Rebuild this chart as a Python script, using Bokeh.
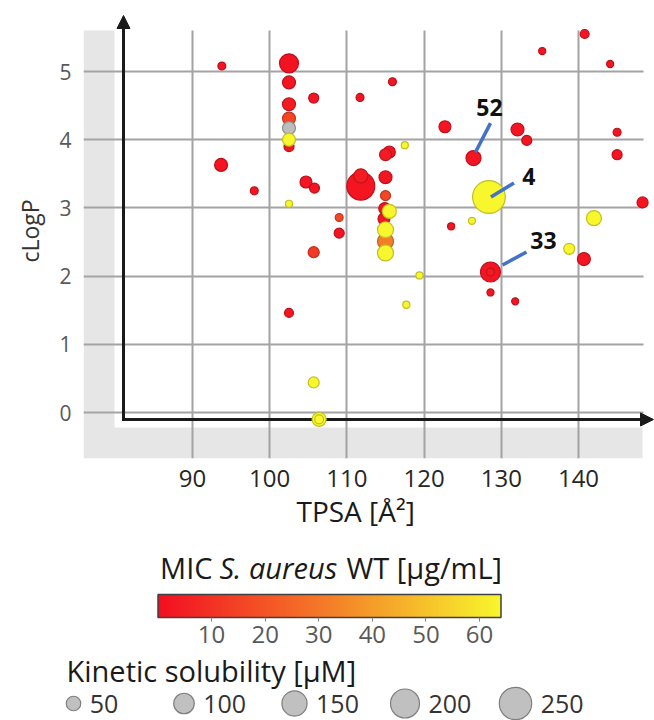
import numpy as np
from bokeh.plotting import figure
from bokeh.models import (ColumnDataSource, Range1d, FixedTicker, LinearColorMapper,
                          ColorBar, Arrow, NormalHead, Title)
from bokeh.layouts import column
from bokeh.embed import file_html
from bokeh.resources import INLINE
from bokeh.core.properties import value

NAN = float("nan")

# ---------------- data ----------------
tpsa = [93.8, 93.7, 98.0, 102.5, 102.5, 105.7, 102.5, 102.5, 102.5, 102.5,
        102.5, 115.9, 111.7, 122.7, 117.5, 115.5, 115.0, 126.4, 104.7, 105.8,
        111.8, 111.8, 115.0, 102.5, 115.0, 109.0, 114.9, 114.8, 115.5, 109.0,
        115.0, 115.0, 115.0, 119.4, 105.7, 117.7, 102.5, 105.7, 106.4, 106.4,
        123.5, 126.2, 140.8, 135.3, 144.1, 132.1, 133.3, 145.0, 145.0, 128.4,
        148.3, 142.0, 128.6, 128.6, 128.6, 131.8, 138.8, 140.7]
clogp = [5.08, 3.63, 3.25, 4.84, 5.12, 4.61, 4.52, 4.31, 4.17, 3.90,
         4.00, 4.85, 4.62, 4.19, 3.92, 3.82, 3.78, 3.73, 3.38, 3.29,
         3.32, 3.47, 3.45, 3.06, 3.18, 2.86, 2.99, 2.84, 2.95, 2.63,
         2.51, 2.68, 2.34, 2.01, 2.35, 1.58, 1.46, 0.44, -0.10, -0.10,
         2.73, 2.81, 5.55, 5.30, 5.11, 4.15, 3.99, 4.11, 3.78, 3.16,
         3.08, 2.85, 2.06, 2.06, 1.76, 1.63, 2.40, 2.25]
mic = [2, 2, 2, 2, 1, 2, 4, 16, NAN, 2,
       64, 2, 2, 2, 64, 2, 4, 2, 2, 2,
       2, 4, 2, 64, 16, 16, 2, 2, 64, 2,
       32, 64, 64, 64, 12, 64, 2, 64, 64, 64,
       2, 64, 2, 2, 2, 2, 2, 2, 2, 64,
       2, 64, 2, 4, 2, 2, 64, 2]
solubility = [15, 40, 15, 40, 86, 24, 40, 40, 40, 24,
              40, 15, 15, 34, 12, 34, 34, 54, 34, 24,
              187, 47, 40, 12, 24, 15, 34, 34, 47, 24,
              61, 61, 61, 12, 29, 12, 19, 29, 47, 19,
              12, 12, 19, 12, 12, 40, 24, 15, 24, 255,
              29, 54, 95, 15, 12, 12, 29, 40]

x_ticks = [90, 100, 110, 120, 130, 140]
y_ticks = [0, 1, 2, 3, 4, 5]
mic_ticks = [10, 20, 30, 40, 50, 60]
mic_low, mic_high = 0, 64
sol_legend = [50, 100, 150, 200, 250]

callout_labels = ["52", "4", "33"]
callout_tpsa = [126.4, 128.4, 128.6]
callout_clogp = [3.73, 3.16, 2.06]

# ---------------- styling / layout ----------------
FONT = "Open Sans"
W = 654
H1 = 532
H2 = 720 - H1
FL, FR, FT = 83, 0, 13
FB = H1 - 458
# data <-> pixel relation of the reference: TPSA 90 at x=192, 7.72 px/unit;
# cLogP 0 at y=412, 68.2 px/unit
X0 = 90 - (192 - FL) / 7.72
X1 = 90 + (W - FR - 192) / 7.72
Y1 = (412 - FT) / 68.2
Y0 = (412 - (H1 - FB)) / 68.2
frame_w = W - FL - FR
frame_h = H1 - FT - FB
PX_X = frame_w / (X1 - X0)
PX_Y = frame_h / (Y1 - Y0)
SIZE_K = 2.05


def dx(px):
    return X0 + (px - FL) / PX_X


def dy(py):
    return Y1 - (py - FT) / PX_Y


def make_palette(anchors, n=256, factor=1.0):
    anchors = np.array(anchors, dtype=float)
    pos = np.linspace(0, 1, len(anchors))
    t = np.linspace(0, 1, n)
    out = []
    for v in t:
        rgb = [np.interp(v, pos, anchors[:, k]) * factor for k in range(3)]
        out.append("#%02x%02x%02x" % tuple(int(round(min(255, c))) for c in rgb))
    return out


anchors = [(243, 14, 34), (244, 126, 40), (248, 246, 44)]
fill_pal = make_palette(anchors)
line_pal = make_palette(anchors, factor=0.78)
mapper = LinearColorMapper(palette=fill_pal, low=mic_low, high=mic_high, nan_color="#BDBDBD")
line_mapper = LinearColorMapper(palette=line_pal, low=mic_low, high=mic_high, nan_color="#8C8C8C")

p = figure(width=W, height=H1, x_range=Range1d(X0, X1), y_range=Range1d(Y0, Y1),
           output_backend="svg", toolbar_location=None,
           min_border_left=FL, min_border_right=FR, min_border_top=FT, min_border_bottom=FB)
p.background_fill_color = "white"
p.border_fill_color = "white"
p.outline_line_color = None
try:
    p.frame_align = False
except Exception:
    pass

# gray L-shaped backdrop and white inner area
p.quad(left=[X0], right=[dx(642)], bottom=[Y0], top=[dy(30)],
       fill_color="#E6E6E6", line_color=None, level="image")
p.quad(left=[dx(114)], right=[X1 + 20], bottom=[dy(427)], top=[Y1 + 20],
       fill_color="white", line_color=None, level="image")

for g, t in ((p.xgrid, x_ticks), (p.ygrid, y_ticks)):
    g.ticker = FixedTicker(ticks=t)
    g.grid_line_color = "#A3A3A3"
    g.grid_line_width = 2
try:
    p.xgrid.cross_bounds = (Y0, dy(30))
    p.ygrid.cross_bounds = (X0, dx(643))
except Exception:
    pass

p.xaxis.ticker = FixedTicker(ticks=x_ticks)
p.yaxis.ticker = FixedTicker(ticks=y_ticks)
for ax in (p.xaxis[0], p.yaxis[0]):
    ax.axis_line_color = None
    ax.major_tick_line_color = None
    ax.minor_tick_line_color = None
    ax.major_label_text_font = FONT
p.xaxis.major_label_text_font_size = "24px"
p.xaxis.major_label_text_color = "#262626"
p.xaxis.major_label_standoff = 5
p.yaxis.major_label_text_font_size = "21px"
p.yaxis.major_label_text_color = "#595959"
p.yaxis.major_label_standoff = 6

# axis titles as side titles (offset lets them sit where the reference has them)
p.add_layout(Title(text="TPSA [Å²]", align="left", offset=296 - FL, standoff=0,
                   text_font=FONT, text_font_size="28px", text_font_style="normal",
                   text_color="#1a1a1a"), "below")
p.add_layout(Title(text="cLogP", align="left", offset=(H1 - FB) - 262, standoff=22,
                   text_font=FONT, text_font_size="23px", text_font_style="normal",
                   text_color="#333333"), "left")

# axes with arrows
ax_x, ax_y = dx(123), dy(419)
for (xs, ys, xe, ye) in ((ax_x, dy(420.5), ax_x, dy(15)), (dx(121.5), ax_y, dx(653), ax_y)):
    p.add_layout(Arrow(end=NormalHead(size=13, fill_color="#1a1a1a", line_color="#1a1a1a", line_width=1),
                       x_start=xs, y_start=ys, x_end=xe, y_end=ye,
                       line_color="#1a1a1a", line_width=3, level="underlay"))

src = ColumnDataSource(dict(tpsa=tpsa, clogp=clogp, mic=mic,
                            size=[SIZE_K * np.sqrt(s) for s in solubility]))
p.scatter(x="tpsa", y="clogp", size="size", source=src,
          fill_color={"field": "mic", "transform": mapper},
          line_color={"field": "mic", "transform": line_mapper}, line_width=1.2)

# callouts (offsets in screen px relative to the compound's point)
line_off = [(2, -6, 17, -35), (2, 0, 25, -14), (12, -7, 36, -20)]
text_off = [(16, -51), (40, -20), (53, -32)]
p.segment(x0=[x + o[0] / PX_X for x, o in zip(callout_tpsa, line_off)],
          y0=[y - o[1] / PX_Y for y, o in zip(callout_clogp, line_off)],
          x1=[x + o[2] / PX_X for x, o in zip(callout_tpsa, line_off)],
          y1=[y - o[3] / PX_Y for y, o in zip(callout_clogp, line_off)],
          line_color="#4472C4", line_width=3.5)
csrc = ColumnDataSource(dict(x=callout_tpsa, y=callout_clogp, t=callout_labels,
                             xo=[o[0] for o in text_off], yo=[o[1] for o in text_off]))
p.text(x="x", y="y", text="t", x_offset="xo", y_offset="yo", source=csrc,
       text_font=value(FONT), text_font_style="bold", text_font_size="23px",
       text_align="center", text_baseline="middle", text_color="#111111")

# ---------------- legend panel ----------------
p2 = figure(width=W, height=H2, x_range=Range1d(0, W), y_range=Range1d(H2, 0),
            x_axis_type=None, y_axis_type=None, output_backend="svg",
            toolbar_location=None, min_border=0, outline_line_color=None)
p2.min_border_left = p2.min_border_right = p2.min_border_top = p2.min_border_bottom = 0
p2.grid.visible = False
try:
    p2.frame_align = False
except Exception:
    pass


def ly(py):
    return py - H1


title_parts = [("MIC", "normal", "right", 212), ("S. aureus", "italic", "left", 219),
               ("WT [µg/mL]", "normal", "left", 346)]
for txt, style, align, px in title_parts:
    p2.text(x=[px], y=[ly(567)], text=[txt], text_font=value(FONT),
            text_font_style=style, text_font_size="29px", text_color="#1a1a1a",
            text_align=align, text_baseline="middle")

cb = ColorBar(color_mapper=mapper, orientation="horizontal", width=343, height=23,
              location=(157.5, 75), ticker=FixedTicker(ticks=mic_ticks),
              major_label_text_font=FONT, major_label_text_font_size="24px",
              major_label_text_color="#595959", major_tick_in=0, major_tick_out=4,
              major_tick_line_color="#7F7F7F", minor_tick_line_color=None,
              bar_line_color="#404040", bar_line_width=1.5, padding=0, margin=0,
              background_fill_alpha=0, border_line_color=None, label_standoff=4)
p2.add_layout(cb)

p2.text(x=[66], y=[ly(670)], text=["Kinetic solubility [µM]"], text_font=value(FONT),
        text_font_size="29px", text_color="#1a1a1a", text_align="left", text_baseline="middle")

leg_r = [SIZE_K * np.sqrt(s) / 2 for s in sol_legend]
leg_x = [73 + 110.5 * i for i in range(len(sol_legend))]
leg_y = ly(703)
p2.scatter(x=leg_x, y=[leg_y] * len(sol_legend), size=[2 * r for r in leg_r],
           fill_color="#C0C0C0", line_color="#7F7F7F", line_width=1.2)
p2.text(x=[x + r + 9 for x, r in zip(leg_x, leg_r)], y=[leg_y] * len(sol_legend),
        text=[str(s) for s in sol_legend], text_font=value(FONT), text_font_size="25px",
        text_color="#333333", text_align="left", text_baseline="middle")

layout = column(p, p2)
open("out.html", "w").write(file_html(layout, INLINE))
